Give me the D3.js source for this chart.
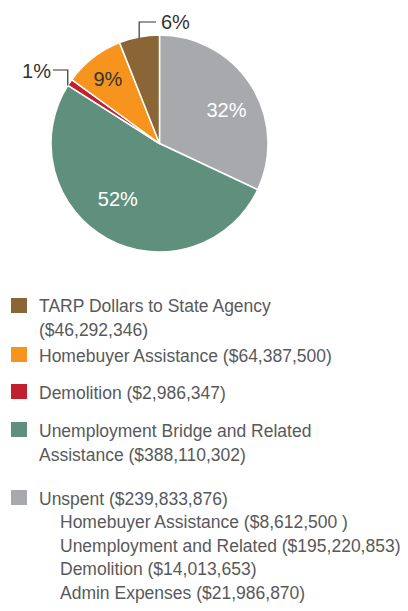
<!DOCTYPE html>
<html><head><meta charset="utf-8">
<script src="https://cdn.jsdelivr.net/npm/d3@7"></script>
<style>body{margin:0;background:#fff}svg{display:block}</style>
</head><body>
<script>
const categories = ["Unspent", "Unemployment Bridge and Related Assistance", "Demolition", "Homebuyer Assistance", "TARP Dollars to State Agency"];
const dollars = [239833876, 388110302, 2986347, 64387500, 46292346];
const percents = [32, 52, 1, 9, 6];
const pctLabels = ["32%", "52%", "1%", "9%", "6%"];
const colors = ["#A7A9AC", "#5F907E", "#C1202E", "#F7941E", "#8A6535"];
const legendOrder = [4, 3, 2, 1, 0];
const legendLines = [
  ["TARP Dollars to State Agency", "($46,292,346)"],
  ["Homebuyer Assistance ($64,387,500)"],
  ["Demolition ($2,986,347)"],
  ["Unemployment Bridge and Related", "Assistance ($388,110,302)"],
  ["Unspent ($239,833,876)"]
];
const unspentSub = ["Homebuyer Assistance ($8,612,500 )", "Unemployment and Related ($195,220,853)", "Demolition ($14,013,653)", "Admin Expenses ($21,986,870)"];

const W = 408, H = 611;
const svg = d3.select("body").append("svg").attr("width", W).attr("height", H);
const font = "'Liberation Sans', Arial, sans-serif";
const textColor = "#58595B";

const cx = 159.5, cy = 143.5, R = 108.5;
const pie = d3.pie().sort(null).value(d => d)(percents);
const arc = d3.arc().innerRadius(0).outerRadius(R);
const g = svg.append("g").attr("transform", `translate(${cx},${cy})`);
g.selectAll("path").data(pie).join("path")
  .attr("d", arc).attr("fill", (d, i) => colors[i])
  .attr("stroke", "#fff").attr("stroke-width", 1.5).attr("stroke-linejoin", "round");

// inside labels: position within slice (fraction of angle span, fraction of radius)
const inside = {0: {f: 0.55, r: 0.69, c: "#fff"}, 1: {f: 0.543, r: 0.64, c: "#fff"}, 3: {f: 0.47, r: 0.76, c: "#333"}};
Object.keys(inside).forEach(k => {
  const d = pie[k], o = inside[k];
  const a = d.startAngle + (d.endAngle - d.startAngle) * o.f;
  const rr = R * o.r;
  g.append("text").attr("x", Math.sin(a) * rr).attr("y", -Math.cos(a) * rr).attr("dy", "0.36em")
    .attr("text-anchor", "middle").attr("font-family", font).attr("font-size", 20)
    .attr("fill", o.c).text(pctLabels[k]);
});

// leader for 6%
{
  const d = pie[4];
  const a = (d.startAngle + d.endAngle) / 2;
  const x = cx + Math.sin(a) * R, y = cy - Math.cos(a) * R;
  svg.append("path").attr("d", `M${x},${y + 1}V${22}H${156}`)
    .attr("fill", "none").attr("stroke", "#333").attr("stroke-width", 1.2);
  svg.append("text").attr("x", 161).attr("y", 29).attr("font-family", font)
    .attr("font-size", 20).attr("fill", "#333").text(pctLabels[4]);
}
// leader for 1%
{
  const d = pie[2];
  const a = d.startAngle + (d.endAngle - d.startAngle) * 0.5;
  const x = cx + Math.sin(a) * R, y = cy - Math.cos(a) * R;
  svg.append("path").attr("d", `M${x - 2},${y + 3}V${70}H${53}`)
    .attr("fill", "none").attr("stroke", "#333").attr("stroke-width", 1.2);
  svg.append("text").attr("x", 51).attr("y", 78).attr("text-anchor", "end").attr("font-family", font)
    .attr("font-size", 20).attr("fill", "#333").text(pctLabels[2]);
}

// legend
const swatchTops = [298, 347, 384, 422, 490];
const firstBaselines = [312, 362, 399, 437, 505];
const lineH = 24;
legendOrder.forEach((ci, li) => {
  svg.append("rect").attr("x", 11).attr("y", swatchTops[li]).attr("width", 16).attr("height", 15)
    .attr("fill", colors[ci]);
  legendLines[li].forEach((t, j) => {
    svg.append("text").attr("x", 39).attr("y", firstBaselines[li] + j * lineH)
      .attr("font-family", font).attr("font-size", 17.5).attr("fill", textColor).text(t);
  });
});
unspentSub.forEach((t, j) => {
  svg.append("text").attr("x", 60).attr("y", 528 + j * 23.5)
    .attr("font-family", font).attr("font-size", 17.5).attr("fill", textColor).text(t);
});
</script>
</body></html>
